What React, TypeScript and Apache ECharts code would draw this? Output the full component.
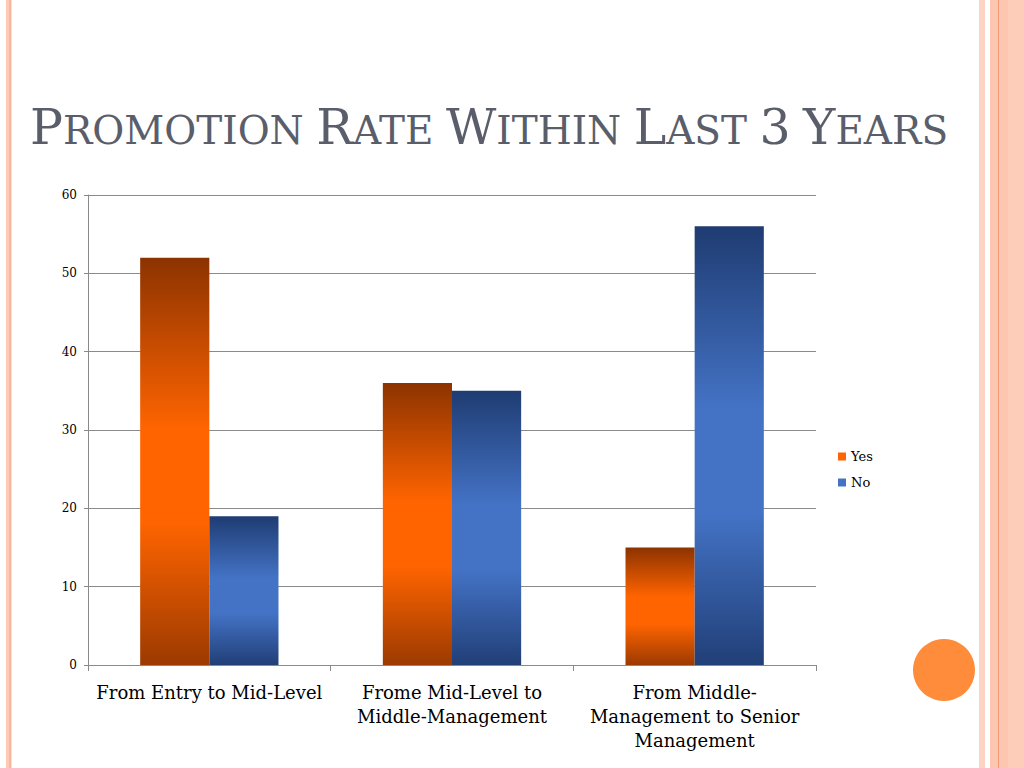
import React, { useEffect, useRef } from "react";
import * as echarts from "echarts";

const categories = [
  "From Entry to Mid-Level",
  "Frome Mid-Level to\nMiddle-Management",
  "From Middle-\nManagement to Senior\nManagement",
];
const yesValues = [52, 36, 15];
const noValues = [19, 35, 56];
const seriesNames = ["Yes", "No"];
const yTicks = { min: 0, max: 60, interval: 10 };

const TITLE_FONT = "DejaVu Serif";
const FONT = "DejaVu Serif";

const orangeGrad = new echarts.graphic.LinearGradient(0, 0, 0, 1, [
  { offset: 0, color: "#8c3300" },
  { offset: 0.42, color: "#ff6400" },
  { offset: 0.65, color: "#ff6400" },
  { offset: 1, color: "#9c3a00" },
]);
const blueGrad = new echarts.graphic.LinearGradient(0, 0, 0, 1, [
  { offset: 0, color: "#1f3c72" },
  { offset: 0.42, color: "#4473c6" },
  { offset: 0.65, color: "#4473c6" },
  { offset: 1, color: "#213f77" },
]);

function smallCaps(words: string[]): string {
  return words
    .map((w) => `{b|${w[0]}}{s|${w.slice(1).toUpperCase()}}`)
    .join("{s| }");
}

export default function App() {
  const ref = useRef<HTMLDivElement>(null);
  useEffect(() => {
    if (!ref.current) return;
    const chart = echarts.init(ref.current, null, { renderer: "svg" });
    const titleWords = ["Promotion", "Rate", "Within", "Last", "3", "Years"];
    chart.setOption({
      animation: false,
      backgroundColor: "#ffffff",
      graphic: [
        { type: "rect", shape: { x: 6, y: 0, width: 3, height: 768 }, style: { fill: "#fccab6" } },
        { type: "rect", shape: { x: 9, y: 0, width: 2, height: 768 }, style: { fill: "#f8b89e" } },
        { type: "rect", shape: { x: 11, y: 0, width: 1, height: 768 }, style: { fill: "#fde0d4" } },
        { type: "rect", shape: { x: 979, y: 0, width: 6, height: 768 }, style: { fill: "#fdd3c3" } },
        { type: "rect", shape: { x: 990, y: 0, width: 34, height: 768 }, style: { fill: "#fcc6b1" } },
        { type: "rect", shape: { x: 998, y: 0, width: 1, height: 768 }, style: { fill: "#f29a76" } },
        { type: "rect", shape: { x: 1008, y: 0, width: 16, height: 768 }, style: { fill: "#fdcdb9" } },
        { type: "circle", shape: { cx: 944, cy: 670, r: 31 }, style: { fill: "#fe8c3a" } },
        {
          type: "text",
          x: 30,
          y: 152,
          style: {
            text: smallCaps(titleWords),
            fill: "#5a5e6a",
            verticalAlign: "bottom",
            rich: {
              b: { fontSize: 49, fontFamily: TITLE_FONT, color: "#5a5e6a", verticalAlign: "bottom" },
              s: { fontSize: 39, fontFamily: TITLE_FONT, color: "#5a5e6a", verticalAlign: "bottom", padding: [0, 0, 2, 0] },
            },
          },
        },
      ],
      legend: {
        orient: "vertical",
        left: 838,
        top: 450,
        itemWidth: 8,
        itemHeight: 8,
        itemGap: 13,
        padding: 0,
        textStyle: { fontFamily: FONT, fontSize: 13, color: "#000" },
        data: [
          { name: seriesNames[0], icon: "rect", itemStyle: { color: "#ff6400" } },
          { name: seriesNames[1], icon: "rect", itemStyle: { color: "#4473c6" } },
        ],
      },
      grid: { left: 88, top: 195, right: 208, bottom: 103, containLabel: false },
      xAxis: {
        type: "category",
        data: categories,
        axisLine: { lineStyle: { color: "#8a8a8a", width: 1 } },
        axisTick: { show: true, length: 6, lineStyle: { color: "#8a8a8a" } },
        axisLabel: {
          fontFamily: FONT,
          fontSize: 18,
          lineHeight: 24,
          color: "#000",
          margin: 15,
          interval: 0,
        },
      },
      yAxis: {
        type: "value",
        min: yTicks.min,
        max: yTicks.max,
        interval: yTicks.interval,
        axisLine: { show: true, lineStyle: { color: "#8a8a8a", width: 1 } },
        axisTick: { show: true, length: 4, lineStyle: { color: "#8a8a8a" } },
        splitLine: { show: true, lineStyle: { color: "#8a8a8a", width: 1.2 } },
        axisLabel: { fontFamily: FONT, fontSize: 12, color: "#000", margin: 11 },
      },
      series: [
        {
          name: seriesNames[0],
          type: "bar",
          data: yesValues,
          barGap: "0%",
          barCategoryGap: "43%",
          itemStyle: { color: orangeGrad },
        },
        {
          name: seriesNames[1],
          type: "bar",
          data: noValues,
          barGap: "0%",
          barCategoryGap: "43%",
          itemStyle: { color: blueGrad },
        },
      ],
    });
    return () => chart.dispose();
  }, []);
  return (
    <div
      ref={ref}
      style={{ position: "fixed", left: 0, top: 0, width: 1024, height: 768 }}
    />
  );
}
